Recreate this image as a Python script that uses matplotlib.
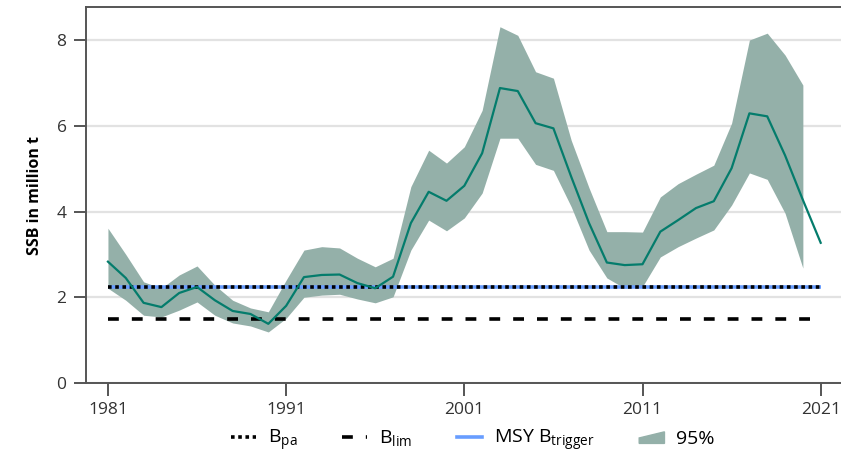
import numpy as np
import matplotlib
matplotlib.use('agg')
import matplotlib.pyplot as plt
from matplotlib.lines import Line2D
from matplotlib.patches import Patch, Polygon
from matplotlib.legend_handler import HandlerPatch

plt.rcParams['font.family'] = ['Open Sans', 'DejaVu Sans']

years = list(range(1981, 2022))
ssb = [2.83, 2.45, 1.87, 1.77, 2.10, 2.24, 1.93, 1.68, 1.61, 1.38,
       1.80, 2.47, 2.52, 2.53, 2.33, 2.21, 2.48, 3.73, 4.46, 4.25,
       4.60, 5.36, 6.88, 6.81, 6.06, 5.94, 4.81, 3.73, 2.81, 2.75,
       2.77, 3.53, 3.80, 4.08, 4.24, 5.01, 6.29, 6.22, 5.31, 4.27,
       3.27]
ci_years = list(range(1981, 2021))
ssb_high = [3.61, 3.00, 2.36, 2.21, 2.52, 2.73, 2.28, 1.93, 1.75, 1.66,
            2.40, 3.10, 3.18, 3.15, 2.91, 2.71, 2.91, 4.58, 5.43, 5.13,
            5.51, 6.36, 8.31, 8.11, 7.26, 7.11, 5.66, 4.55, 3.53, 3.53,
            3.52, 4.34, 4.65, 4.87, 5.08, 6.06, 8.00, 8.16, 7.65, 6.95]
ssb_low = [2.21, 1.93, 1.58, 1.54, 1.70, 1.89, 1.58, 1.40, 1.33, 1.19,
           1.51, 2.00, 2.05, 2.07, 1.96, 1.87, 2.01, 3.10, 3.80, 3.55,
           3.85, 4.43, 5.71, 5.71, 5.10, 4.96, 4.11, 3.10, 2.45, 2.21,
           2.25, 2.94, 3.18, 3.38, 3.57, 4.15, 4.90, 4.75, 3.96, 2.68]

b_pa = 2.25
b_lim = 1.5
msy_btrigger = 2.25

LINE_COL = '#047c6c'
FILL_COL = '#94b0a9'
BLUE = '#689dff'
SPINE = '#555555'


def wedge_patch(legend, orig_handle, xdescent, ydescent, width, height, fontsize):
    y0 = -ydescent + 0.05 * height
    pts = [(-xdescent, y0), (-xdescent + width, y0),
           (-xdescent + width, y0 + 0.85 * height), (-xdescent, y0 + 0.4 * height)]
    return Polygon(pts, closed=True)


fig = plt.figure(figsize=(8.41, 4.59), dpi=100)
ax = fig.add_axes([0.1023, 0.1656, 0.8977, 0.8191])

ax.fill_between(ci_years, ssb_low, ssb_high, color=FILL_COL, lw=0, zorder=2)
ax.plot(years, ssb, color=LINE_COL, lw=1.6, zorder=5)

ax.hlines(msy_btrigger, 1981, 2021, color=BLUE, lw=2.6, zorder=3)
ax.hlines(b_pa, 1981, 2021, color='black', lw=2.6, linestyles=[(0, (1, 1))], zorder=4)
ax.hlines(b_lim, 1981, 2021, color='black', lw=2.6, linestyles=[(0, (3, 3.6))], zorder=4)

ax.set_xlim(1979.77, 2022.14)
ax.set_ylim(0, 8.77)
ax.set_xticks([1981, 1991, 2001, 2011, 2021])
ax.set_yticks([0, 2, 4, 6, 8])
ax.yaxis.grid(True, color='#e2e2e2', lw=1.6)
ax.set_axisbelow(True)

for s in ['left', 'top', 'bottom']:
    ax.spines[s].set_color(SPINE)
    ax.spines[s].set_linewidth(1.4)
ax.spines['right'].set_visible(False)
ax.tick_params(axis='both', length=9, width=1.4, color=SPINE, labelcolor='#333333',
               labelsize=12.5, pad=5)
ax.set_ylabel('SSB in million t', fontsize=11.5, fontweight='bold', labelpad=10)

handles = [Line2D([], [], color='black', lw=2.6, ls=(0, (1, 1))),
           Line2D([], [], color='black', lw=2.6, ls=(0, (3, 3.6))),
           Line2D([], [], color=BLUE, lw=2.6),
           Patch(color=FILL_COL)]
labels = [r'B$_\mathregular{pa}$', r'B$_\mathregular{lim}$',
          r'MSY B$_\mathregular{trigger}$', '95%']
fig.legend(handles, labels, loc='center', bbox_to_anchor=(0.562, 0.04), ncol=4,
           frameon=False, fontsize=14, handlelength=1.3, handletextpad=0.6,
           columnspacing=2.3,
           handler_map={Patch: HandlerPatch(patch_func=wedge_patch)})

fig.savefig('out.png', dpi=100, facecolor='white')
